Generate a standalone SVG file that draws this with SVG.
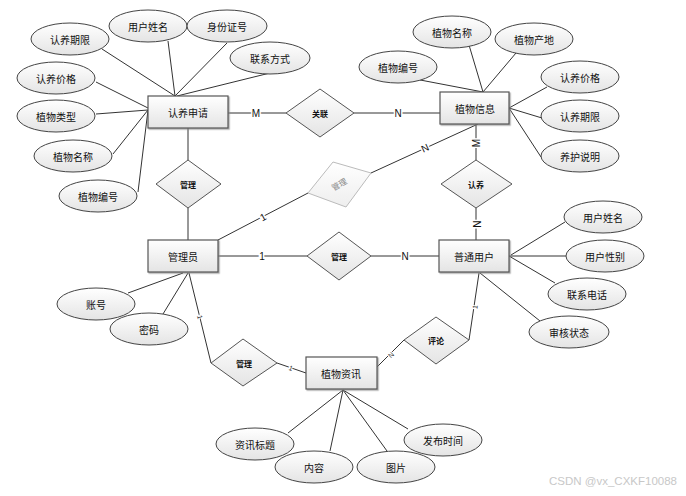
<svg xmlns="http://www.w3.org/2000/svg" width="686" height="496" viewBox="0 0 686 496">
<defs>
<linearGradient id="g" x1="0" y1="0" x2="0" y2="1">
<stop offset="0" stop-color="#ffffff"/>
<stop offset="1" stop-color="#e4e4e4"/>
</linearGradient>
<linearGradient id="gl" x1="0" y1="0" x2="0" y2="1">
<stop offset="0" stop-color="#ffffff"/>
<stop offset="1" stop-color="#eeeeee"/>
</linearGradient>
<filter id="sh" x="-10%" y="-10%" width="130%" height="140%">
<feDropShadow dx="1.2" dy="1.2" stdDeviation="0.7" flood-color="#888" flood-opacity="0.7"/>
</filter>
</defs>
<style>
.ent{fill:url(#g);stroke:#555;stroke-width:1.2;filter:url(#sh)}
.att{fill:url(#g);stroke:#444;stroke-width:1}
.rel{fill:url(#g);stroke:#555;stroke-width:1}
.t{font-family:"Noto Sans CJK SC","Liberation Sans",sans-serif;font-size:10px;fill:#111;text-anchor:middle;dominant-baseline:central}
.rt{font-family:"Noto Sans CJK SC","Liberation Sans",sans-serif;font-size:8px;font-weight:bold;fill:#111;text-anchor:middle;dominant-baseline:central}
.c line{stroke:#333;stroke-width:1}
.lb{font-family:"Liberation Sans",sans-serif;font-size:10px;fill:#111;text-anchor:middle;dominant-baseline:central;stroke:#fff;stroke-width:3;paint-order:stroke}
.lbs{font-family:"Liberation Sans",sans-serif;font-size:7px;fill:#333;text-anchor:middle;dominant-baseline:central;stroke:#fff;stroke-width:2;paint-order:stroke}
</style>
<rect width="686" height="496" fill="#fff"/>
<g id="connectors" class="c">
<line x1="102" y1="49" x2="175" y2="96"/>
<line x1="168" y1="41" x2="175" y2="96"/>
<line x1="227" y1="43" x2="175" y2="96"/>
<line x1="270" y1="73" x2="177" y2="96"/>
<line x1="96" y1="82" x2="148" y2="108"/>
<line x1="96" y1="114" x2="148" y2="110"/>
<line x1="113" y1="154" x2="148" y2="110"/>
<line x1="138" y1="192" x2="148" y2="110"/>
<line x1="228" y1="113" x2="286" y2="113"/>
<line x1="188" y1="128" x2="188" y2="160"/>
<line x1="188" y1="208" x2="188" y2="240"/>
<line x1="469" y1="45" x2="483" y2="92"/>
<line x1="516" y1="53" x2="483" y2="92"/>
<line x1="415" y1="79" x2="483" y2="92"/>
<line x1="547" y1="87" x2="509" y2="108"/>
<line x1="542" y1="118" x2="509" y2="108"/>
<line x1="541" y1="157" x2="509" y2="108"/>
<line x1="354" y1="113" x2="440" y2="113"/>
<line x1="476" y1="124" x2="476" y2="160"/>
<line x1="476" y1="208" x2="476" y2="240"/>
<line x1="218" y1="240" x2="308" y2="193"/>
<line x1="371" y1="173" x2="478" y2="124"/>
<line x1="218" y1="256" x2="307" y2="256"/>
<line x1="371" y1="256" x2="439" y2="256"/>
<line x1="128" y1="293" x2="183" y2="273"/>
<line x1="163" y1="314" x2="188" y2="273"/>
<line x1="189" y1="273" x2="211" y2="363"/>
<line x1="277" y1="363" x2="306" y2="373"/>
<line x1="565" y1="222" x2="511" y2="255"/>
<line x1="566" y1="256" x2="509" y2="256"/>
<line x1="555" y1="283" x2="509" y2="256"/>
<line x1="540" y1="321" x2="480" y2="273"/>
<line x1="479" y1="273" x2="469" y2="340"/>
<line x1="404" y1="340" x2="376" y2="368"/>
<line x1="343" y1="390" x2="288" y2="433"/>
<line x1="343" y1="390" x2="330" y2="451"/>
<line x1="343" y1="390" x2="387" y2="451"/>
<line x1="343" y1="390" x2="408" y2="429"/>
<text class="lb" x="256" y="113">M</text>
<text class="lb" x="398" y="113">N</text>
<text class="lb" x="476" y="143" transform="rotate(-90 476 143)">M</text>
<text class="lb" x="476" y="224" transform="rotate(90 476 224)">N</text>
<text class="lb" x="263" y="217" transform="rotate(-28 263 217)">1</text>
<text class="lb" x="425" y="148" transform="rotate(-25 425 148)">N</text>
<text class="lb" x="262" y="256">1</text>
<text class="lb" x="405" y="256">N</text>
<text class="lbs" x="200" y="317" transform="rotate(76 200 317)">1</text>
<text class="lbs" x="291" y="368" transform="rotate(19 291 368)">1</text>
<text class="lbs" x="475" y="307" transform="rotate(-82 475 307)">1</text>
<text class="lbs" x="391" y="355" transform="rotate(-45 391 355)">N</text>
</g>
<g id="renyang-shenqing"><rect class="ent" x="148" y="96" width="80" height="32"/><text class="t" x="188" y="112">认养申请</text></g>
<g id="zhiwu-xinxi"><rect class="ent" x="440" y="92" width="69" height="32"/><text class="t" x="475" y="108">植物信息</text></g>
<g id="guanliyuan"><rect class="ent" x="148" y="240" width="70" height="32"/><text class="t" x="183" y="256">管理员</text></g>
<g id="putong-yonghu"><rect class="ent" x="439" y="240" width="70" height="32"/><text class="t" x="474" y="256">普通用户</text></g>
<g id="zhiwu-zixun"><rect class="ent" x="306" y="357" width="71" height="32"/><text class="t" x="341" y="373">植物资讯</text></g>
<g id="rel-guanlian"><polygon class="rel" points="286,113 320,89 354,113 320,137"/><text class="rt" x="320" y="113">关联</text></g>
<g id="rel-guanli-1"><polygon class="rel" points="156,184 188,160 221,184 188,208"/><text class="rt" x="188" y="184">管理</text></g>
<g id="rel-renyang"><polygon class="rel" points="441,184 476,160 512,184 476,208"/><text class="rt" x="476" y="184">认养</text></g>
<g id="rel-guanli-2"><polygon class="rel" points="307,256 339,232 371,256 339,280"/><text class="rt" x="339" y="256">管理</text></g>
<g id="rel-guanli-3"><polygon class="rel" points="211,363 243,339 277,363 243,386"/><text class="rt" x="244" y="363">管理</text></g>
<g id="rel-pinglun"><polygon class="rel" points="404,340 436,317 469,340 436,364"/><text class="rt" x="436" y="340">评论</text></g>
<g id="rel-guanli-diag"><polygon points="308,193 333,162 371,173 346,207" fill="url(#gl)" stroke="#bbb" stroke-width="1"/><text class="rt" x="339" y="184" transform="rotate(-30 339 184)" style="fill:#888;font-weight:normal">管理</text></g>
<g id="a1"><ellipse class="att" cx="70" cy="39" rx="39" ry="16"/><text class="t" x="70" y="39">认养期限</text></g>
<g id="a2"><ellipse class="att" cx="148" cy="26" rx="39" ry="16"/><text class="t" x="148" y="26">用户姓名</text></g>
<g id="a3"><ellipse class="att" cx="227" cy="26" rx="40" ry="16"/><text class="t" x="227" y="26">身份证号</text></g>
<g id="a4"><ellipse class="att" cx="270" cy="58" rx="40" ry="16"/><text class="t" x="270" y="58">联系方式</text></g>
<g id="a5"><ellipse class="att" cx="56" cy="78" rx="39" ry="16"/><text class="t" x="56" y="78">认养价格</text></g>
<g id="a6"><ellipse class="att" cx="56" cy="116" rx="39" ry="16"/><text class="t" x="56" y="116">植物类型</text></g>
<g id="a7"><ellipse class="att" cx="73" cy="156" rx="39" ry="16"/><text class="t" x="73" y="156">植物名称</text></g>
<g id="a8"><ellipse class="att" cx="98" cy="196" rx="39" ry="16"/><text class="t" x="98" y="196">植物编号</text></g>
<g id="b1"><ellipse class="att" cx="452" cy="32" rx="39" ry="16"/><text class="t" x="452" y="32">植物名称</text></g>
<g id="b2"><ellipse class="att" cx="534" cy="39" rx="39" ry="16"/><text class="t" x="534" y="39">植物产地</text></g>
<g id="b3"><ellipse class="att" cx="398" cy="67" rx="39" ry="16"/><text class="t" x="398" y="67">植物编号</text></g>
<g id="b4"><ellipse class="att" cx="580" cy="77" rx="39" ry="16"/><text class="t" x="580" y="77">认养价格</text></g>
<g id="b5"><ellipse class="att" cx="580" cy="116" rx="39" ry="16"/><text class="t" x="580" y="116">认养期限</text></g>
<g id="b6"><ellipse class="att" cx="580" cy="156" rx="39" ry="16"/><text class="t" x="580" y="156">养护说明</text></g>
<g id="c1"><ellipse class="att" cx="96" cy="304" rx="39" ry="16"/><text class="t" x="96" y="304">账号</text></g>
<g id="c2"><ellipse class="att" cx="149" cy="329" rx="39" ry="16"/><text class="t" x="149" y="329">密码</text></g>
<g id="d1"><ellipse class="att" cx="603" cy="217" rx="39" ry="16"/><text class="t" x="603" y="217">用户姓名</text></g>
<g id="d2"><ellipse class="att" cx="605" cy="256" rx="39" ry="16"/><text class="t" x="605" y="256">用户性别</text></g>
<g id="d3"><ellipse class="att" cx="587" cy="294" rx="39" ry="16"/><text class="t" x="587" y="294">联系电话</text></g>
<g id="d4"><ellipse class="att" cx="569" cy="332" rx="40" ry="16"/><text class="t" x="569" y="332">审核状态</text></g>
<g id="e1"><ellipse class="att" cx="255" cy="444" rx="39" ry="16"/><text class="t" x="255" y="444">资讯标题</text></g>
<g id="e2"><ellipse class="att" cx="314" cy="467" rx="39" ry="16"/><text class="t" x="314" y="467">内容</text></g>
<g id="e3"><ellipse class="att" cx="396" cy="467" rx="39" ry="16"/><text class="t" x="396" y="467">图片</text></g>
<g id="e4"><ellipse class="att" cx="443" cy="440" rx="39" ry="16"/><text class="t" x="443" y="440">发布时间</text></g>
<text x="677" y="481" font-family="Liberation Sans, sans-serif" font-size="11.5" fill="#c8c8c8" text-anchor="end" dominant-baseline="central">CSDN @vx_CXKF10088</text>
</svg>
